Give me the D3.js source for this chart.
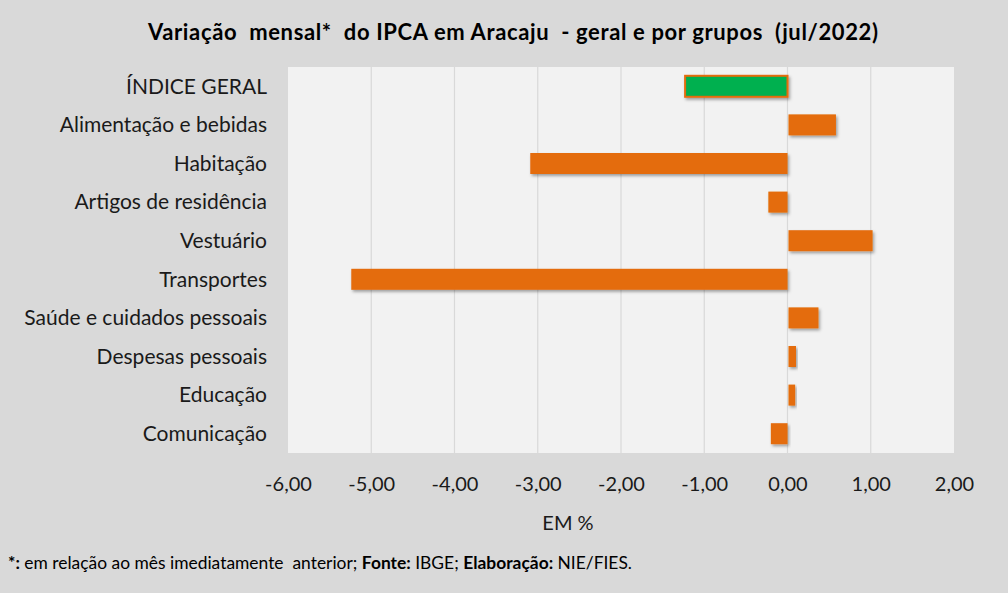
<!DOCTYPE html>
<html><head><meta charset="utf-8">
<script src="https://cdn.jsdelivr.net/npm/d3@7/dist/d3.min.js"></script>
<style>
html,body{margin:0;padding:0;background:#d9d9d9;}
svg{display:block;font-family:Lato, "Open Sans", sans-serif;}
</style></head>
<body>
<svg id="c" width="1008" height="593"></svg>
<script>
const categories = ["ÍNDICE GERAL","Alimentação e bebidas","Habitação","Artigos de residência","Vestuário","Transportes","Saúde e cuidados pessoais","Despesas pessoais","Educação","Comunicação"];
const values = [-1.23, 0.57, -3.09, -0.23, 1.01, -5.24, 0.36, 0.09, 0.08, -0.20];
const tickValues = [-6,-5,-4,-3,-2,-1,0,1,2];
const tickLabels = ["-6,00","-5,00","-4,00","-3,00","-2,00","-1,00","0,00","1,00","2,00"];
const title = "Variação  mensal*  do IPCA em Aracaju  - geral e por grupos  (jul/2022)";

const svg = d3.select("#c");
const W = 1008, H = 593;
const plot = {l:288, r:954, t:67, b:453};

svg.append("rect").attr("width",W).attr("height",H).attr("fill","#d9d9d9");

const defs = svg.append("defs");
const f = defs.append("filter").attr("id","sh").attr("x","-10%").attr("y","-30%").attr("width","130%").attr("height","180%");
f.append("feDropShadow").attr("dx",1.5).attr("dy",2).attr("stdDeviation",1.5).attr("flood-color","#000").attr("flood-opacity",0.35);

const x = d3.scaleLinear().domain([-6,2]).range([plot.l, plot.r]);
const y = d3.scaleBand().domain(categories).range([plot.t, plot.b]).paddingInner(0.456).paddingOuter(0.228);

svg.append("rect").attr("x",plot.l).attr("y",plot.t).attr("width",plot.r-plot.l).attr("height",plot.b-plot.t).attr("fill","#f2f2f2");

// gridlines
svg.append("g").selectAll("line").data(tickValues.slice(1,-1)).join("line")
  .attr("x1",d=>x(d)).attr("x2",d=>x(d)).attr("y1",plot.t).attr("y2",plot.b)
  .attr("stroke","#d9d9d9").attr("stroke-width",1.2);

// bars
svg.append("g").selectAll("rect").data(values).join("rect")
  .attr("x",d=>x(Math.min(0,d)) + (d>=0?1:0))
  .attr("y",(d,i)=>y(categories[i]))
  .attr("width",d=>Math.abs(x(d)-x(0)))
  .attr("height",y.bandwidth())
  .attr("fill",(d,i)=>i===0?"#00b050":"#e46c0a")
  .attr("stroke",(d,i)=>i===0?"#e46c0a":"none")
  .attr("stroke-width",2)
  .attr("filter","url(#sh)");

// category labels
svg.append("g").selectAll("text").data(categories).join("text")
  .attr("x",267).attr("y",d=>y(d)+y.bandwidth()/2).attr("dy","0.35em")
  .attr("text-anchor","end").attr("font-size",21).attr("fill","#1a1a1a").text(d=>d);

// x axis labels
const xAxis = d3.axisBottom(x).tickValues(tickValues).tickFormat((d,i)=>tickLabels[i]).tickSize(0).tickPadding(0);
const ax = svg.append("g").attr("transform",`translate(0,${plot.b})`).call(xAxis);
ax.select(".domain").remove();
ax.selectAll("text").attr("y",31).attr("dy","0.35em").attr("font-size",20).attr("fill","#1a1a1a")
  .attr("font-family","Lato, sans-serif");

svg.append("text").attr("x",568).attr("y",523).attr("dy","0.35em").attr("text-anchor","middle")
  .attr("font-size",20).attr("fill","#1a1a1a").text("EM %");

svg.append("text").attr("x",148).attr("y",32).attr("dy","0.35em").attr("text-anchor","start")
  .attr("font-size",22).attr("font-weight","bold").attr("fill","#000")
  .attr("textLength",730).attr("lengthAdjust","spacing")
  .style("white-space","pre").text(title);

const fn = svg.append("text").attr("x",8).attr("y",563).attr("dy","0.35em").attr("font-size",16.5).attr("fill","#000")
  .attr("textLength",624).attr("lengthAdjust","spacingAndGlyphs").style("white-space","pre");
fn.append("tspan").attr("font-weight","bold").text("*:");
fn.append("tspan").text(" em relação ao mês imediatamente  anterior; ");
fn.append("tspan").attr("font-weight","bold").text("Fonte:");
fn.append("tspan").text(" IBGE; ");
fn.append("tspan").attr("font-weight","bold").text("Elaboração:");
fn.append("tspan").text(" NIE/FIES.");
</script>
</body></html>
